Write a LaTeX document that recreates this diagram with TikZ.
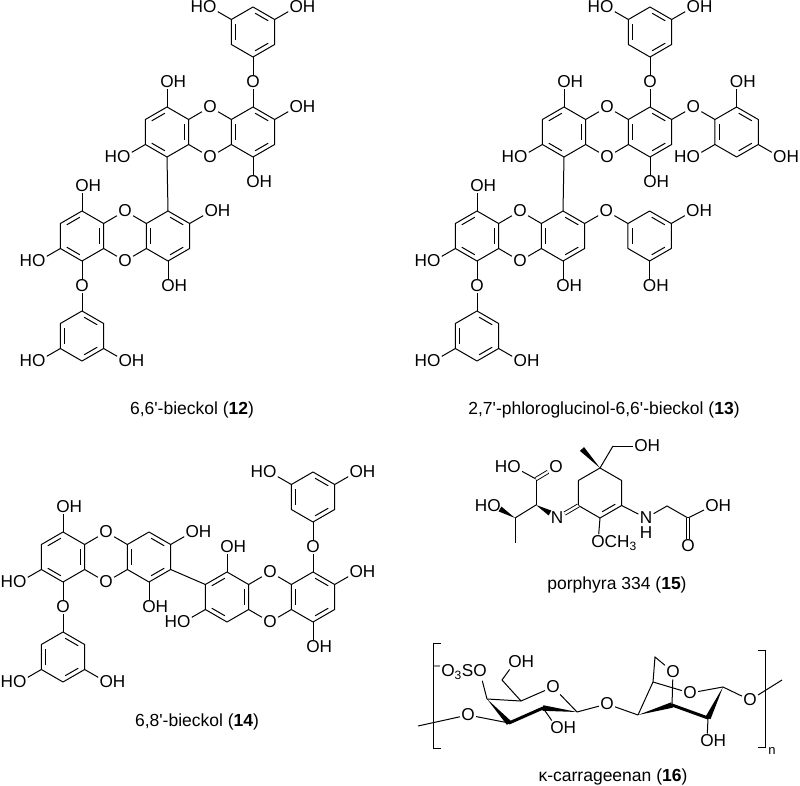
\documentclass[tikz,border=0pt]{standalone}
\usepackage{fontspec}
\setmainfont{Liberation Sans}[Ligatures=TeXOff]
\usetikzlibrary{calc}
\tikzset{
 atom/.style={inner sep=1.2pt, font=\fontsize{17.2}{19}\selectfont},
 bond/.style={line width=1pt},
 dbl/.style={line width=0.9pt, double, double distance=2.4pt},
 thick3/.style={line width=3pt},
 lbl/.style={font=\fontsize{17.5}{19}\selectfont, inner sep=0pt}
}
\newcommand\OH{O\rlap{H}}
\newcommand\HO{\llap{H}O}
\newcommand\hexring[3]{%
 \coordinate (#1-c) at (#2,-#3);
 \foreach \i/\a in {1/90,2/30,3/-30,4/-90,5/-150,6/150}{\coordinate (#1-\i) at ($(#1-c)+(\a:25)$);}
 \draw[bond,line join=round] (#1-1)--(#1-2)--(#1-3)--(#1-4)--(#1-5)--(#1-6)--cycle;}
\newcommand\inb[3]{%
 \coordinate (ta) at ($(#1-#2)!0.2!(#1-c)$);
 \coordinate (tb) at ($(#1-#3)!0.2!(#1-c)$);
 \draw[bond] ($(ta)!0.12!(tb)$)--($(tb)!0.12!(ta)$);}
\newcommand\subst[5]{%
 \node[atom] (#1) at ($(#2-#3)+(#4:25)$) {#5};
 \draw[bond] (#2-#3)--(#1);}
\newcommand\wdg[2]{\fill (#1) -- ($(#2)!2.8pt!90:(#1)$) -- ($(#2)!2.8pt!-90:(#1)$) -- cycle;}
\newcommand\dioxin[6]{%
 \hexring{#1}{#3}{#5}\hexring{#2}{#4}{#5}
 \node[atom] (#6t) at ({(#3+#4)/2},{-(#5-25)}) {O};
 \node[atom] (#6b) at ({(#3+#4)/2},{-(#5+25)}) {O};
 \draw[bond] (#1-2)--(#6t)--(#2-6); \draw[bond] (#1-3)--(#6b)--(#2-5);
 \inb{#1}{2}{3}\inb{#1}{4}{5}\inb{#1}{6}{1}\inb{#2}{5}{6}\inb{#2}{1}{2}\inb{#2}{3}{4}}
\newcommand\phen[1]{\inb{#1}{1}{2}\inb{#1}{3}{4}\inb{#1}{5}{6}}
\begin{document}
\begin{tikzpicture}[x=1pt,y=1pt]
\useasboundingbox (0,0) rectangle (800,-786);
% ===== 12 =====
\dioxin{a1}{a3}{167}{253}{132}{ao}
\subst{a1h1}{a1}{1}{90}{\OH}\subst{a1h5}{a1}{5}{-150}{\HO}
\subst{a3o}{a3}{1}{90}{O}\subst{a3h2}{a3}{2}{30}{\OH}\subst{a3h4}{a3}{4}{-90}{\OH}
\hexring{p1}{253}{32}\phen{p1}\draw[bond](a3o)--(p1-4);
\subst{p1h6}{p1}{6}{150}{\HO}\subst{p1h2}{p1}{2}{30}{\OH}
\dioxin{b1}{b3}{82}{168}{236}{bo}
\draw[bond](a1-4)--(b3-1);
\subst{b1h1}{b1}{1}{90}{\OH}\subst{b1h5}{b1}{5}{-150}{\HO}\subst{b1o}{b1}{4}{-90}{O}
\subst{b3h2}{b3}{2}{30}{\OH}\subst{b3h4}{b3}{4}{-90}{\OH}
\hexring{p2}{82}{336}\phen{p2}\draw[bond](b1o)--(p2-1);
\subst{p2h5}{p2}{5}{-150}{\HO}\subst{p2h3}{p2}{3}{-30}{\OH}
\node[lbl] (l12) at (192,-410) {6,6'-bieckol (\textbf{12})};
% ===== 13 =====
\dioxin{c1}{c3}{564}{650}{132}{co}
\subst{c1h1}{c1}{1}{90}{\OH}\subst{c1h5}{c1}{5}{-150}{\HO}
\subst{c3o}{c3}{1}{90}{O}\subst{c3o2}{c3}{2}{30}{O}\subst{c3h4}{c3}{4}{-90}{\OH}
\hexring{p3}{650}{32}\phen{p3}\draw[bond](c3o)--(p3-4);
\subst{p3h6}{p3}{6}{150}{\HO}\subst{p3h2}{p3}{2}{30}{\OH}
\hexring{p4}{736.6}{132}\phen{p4}\draw[bond](c3o2)--(p4-6);
\subst{p4h1}{p4}{1}{90}{\OH}\subst{p4h5}{p4}{5}{-150}{\HO}\subst{p4h3}{p4}{3}{-30}{\OH}
\dioxin{d1}{d3}{477}{563}{236}{do}
\draw[bond](c1-4)--(d3-1);
\subst{d1h1}{d1}{1}{90}{\OH}\subst{d1h5}{d1}{5}{-150}{\HO}\subst{d1o}{d1}{4}{-90}{O}
\subst{d3o2}{d3}{2}{30}{O}\subst{d3h4}{d3}{4}{-90}{\OH}
\hexring{p5}{477}{336}\phen{p5}\draw[bond](d1o)--(p5-1);
\subst{p5h5}{p5}{5}{-150}{\HO}\subst{p5h3}{p5}{3}{-30}{\OH}
\hexring{p6}{649.6}{236}\phen{p6}\draw[bond](d3o2)--(p6-6);
\subst{p6h2}{p6}{2}{30}{\OH}\subst{p6h4}{p6}{4}{-90}{\OH}
\node[lbl] (l13) at (604,-410) {2,7'-phloroglucinol-6,6'-bieckol (\textbf{13})};
% ===== 14 =====
\dioxin{e1}{e3}{63}{149}{557}{eo}
\subst{e1h1}{e1}{1}{90}{\OH}\subst{e1h5}{e1}{5}{-150}{\HO}\subst{e1o}{e1}{4}{-90}{O}
\subst{e3h2}{e3}{2}{30}{\OH}\subst{e3h4}{e3}{4}{-90}{\OH}
\hexring{p7}{63}{657}\phen{p7}\draw[bond](e1o)--(p7-1);
\subst{p7h5}{p7}{5}{-150}{\HO}\subst{p7h3}{p7}{3}{-30}{\OH}
\dioxin{f1}{f3}{227}{313}{597}{fo}
\draw[bond](e3-3)--(f1-6);
\subst{f1h1}{f1}{1}{90}{\OH}\subst{f1h5}{f1}{5}{-150}{\HO}
\subst{f3o}{f3}{1}{90}{O}\subst{f3h2}{f3}{2}{30}{\OH}\subst{f3h4}{f3}{4}{-90}{\OH}
\hexring{p8}{313}{497}\phen{p8}\draw[bond](f3o)--(p8-4);
\subst{p8h6}{p8}{6}{150}{\HO}\subst{p8h2}{p8}{2}{30}{\OH}
\node[lbl] (l14) at (197,-722) {6,8'-bieckol (\textbf{14})};
% ===== 15 =====
\hexring{g}{600}{493}\inb{g}{3}{4}
\coordinate (gme) at (582,-449); \wdg{g-1}{gme}
\coordinate (g7) at (613,-446); \draw[bond](g-1)--(g7);
\node[atom] (goh) at (641,-446) {\OH}; \draw[bond](g7)--(goh);
\node[atom] (gome) at (598,-543) {O\rlap{CH\textsubscript{3}}}; \draw[bond](g-4)--(gome);
\node[atom] (gn) at (557,-518) {N}; \draw[dbl](g-5)--(gn);
\coordinate (ga) at (536,-505); \coordinate (gnw) at (550,-513); \wdg{ga}{gnw}
\coordinate (gc) at (536,-479); \draw[bond](ga)--(gc);
\node[atom] (gho1) at (514,-467) {\HO}; \draw[bond](gc)--(gho1);
\node[atom] (go1) at (556,-467) {O}; \draw[dbl](gc)--(go1);
\coordinate (gb) at (515,-518); \draw[bond](ga)--(gb);
\coordinate (gm) at (515,-543); \draw[bond](gb)--(gm);
\node[atom] (gho2) at (494,-506) {\HO}; \coordinate (ghw) at (500,-509); \wdg{gb}{ghw}
\node[atom] (gnh) at (646,-518) {N}; \node[atom] (gh) at (646,-533) {H};
\draw[bond](g-3)--(gnh);
\coordinate (gch) at (667,-506); \coordinate (gcc) at (688,-518);
\draw[bond](gnh)--(gch)--(gcc);
\node[atom] (goh2) at (712,-506) {\OH}; \draw[bond](gcc)--(goh2);
\node[atom] (go2) at (688,-546) {O}; \draw[dbl](gcc)--(go2);
\node[lbl] (l15) at (617,-585) {porphyra 334 (\textbf{15})};
% ===== 16 =====
\draw[bond] (441,-643)--(433,-643)--(433,-748)--(441,-748);
\draw[bond] (758,-650)--(765,-650)--(765,-747)--(758,-747);
\node[atom,font=\fontsize{13}{14}\selectfont] (nn) at (772,-751) {n};
\coordinate (k0) at (418,-726);
\node[atom] (ko1) at (468,-715) {O};
\coordinate (k4) at (487,-699); \coordinate (k3) at (509,-723);
\coordinate (k2) at (543,-708); \coordinate (k1) at (577,-712);
\coordinate (k5) at (521,-701); \coordinate (k6) at (502,-680);
\node[atom] (kor) at (553,-687) {O};
\node[atom] (koh6) at (515,-662) {\OH};
\node[atom] (kso) at (480,-672) {\llap{\textsuperscript{−}O\textsubscript{3}S}O};
\node[atom] (koh2) at (557,-728) {\OH};
\node[atom] (kog) at (607,-704) {O};
\draw[bond](k0)--(ko1)--(k3);
\wdg{k4}{k3}
\draw[thick3,line cap=round](k3)--(k2);
\wdg{k1}{k2}
\draw[bond](k4)--(kso); \draw[bond](k4)--(k5)--(kor)--(k1);
\draw[bond](k5)--(k6)--(koh6);
\draw[bond](k2)--(koh2);
\draw[bond](k1)--(kog);
\coordinate (m4) at (638,-715); \coordinate (m3) at (672,-705);
\coordinate (m2) at (708,-718); \coordinate (m1) at (723,-687);
\coordinate (m5) at (653,-682); \coordinate (m6) at (655,-657);
\node[atom] (mob) at (673,-672) {O};
\node[atom] (mor) at (690,-693) {O};
\node[atom] (moh) at (707,-741) {\OH};
\node[atom] (mog) at (750,-700) {O};
\coordinate (mend) at (782,-680);
\draw[bond](kog)--(m4);
\wdg{m4}{m3}
\draw[thick3,line cap=round](m3)--(m2);
\wdg{m1}{m2}
\draw[bond](m4)--(m5)--(m6)--(mob)--(m3);
\draw[bond](m5)--(mor)--(m1)--(mog)--(mend);
\draw[bond](m2)--(moh);
\node[lbl] (l16) at (613,-777) {κ-carrageenan (\textbf{16})};
\end{tikzpicture}
\end{document}
